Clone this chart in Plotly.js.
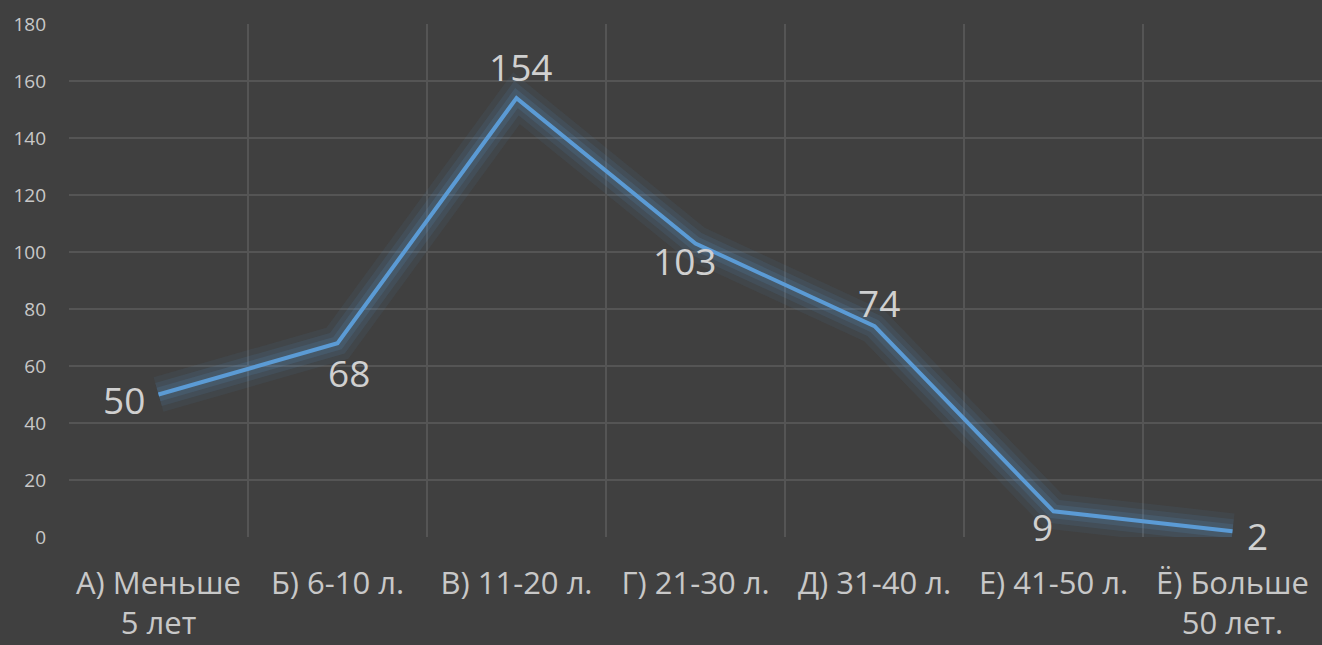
<!DOCTYPE html>
<html><head><meta charset="utf-8">
<script src="https://cdn.plot.ly/plotly-3.0.1.min.js"></script>
<style>html,body{margin:0;padding:0;background:#404040;}#chart{width:1322px;height:645px;}</style>
</head><body><div id="chart"></div>
<script>
const categories = ["А) Меньше<br>5 лет","Б) 6-10 л.","В) 11-20 л.","Г) 21-30 л.","Д) 31-40 л.","Е) 41-50 л.","Ё) Больше<br>50 лет."];
const values = [50, 68, 154, 103, 74, 9, 2];
const yTicks = [0,20,40,60,80,100,120,140,160,180];
const labelPos = [
  {xanchor:"right", yanchor:"middle", xshift:-12, yshift:-5},
  {xanchor:"left", yanchor:"top", xshift:-12, yshift:-2},
  {xanchor:"center", yanchor:"bottom", xshift:4, yshift:4},
  {xanchor:"center", yanchor:"top", xshift:-11, yshift:10},
  {xanchor:"center", yanchor:"bottom", xshift:4, yshift:-4},
  {xanchor:"center", yanchor:"top", xshift:-11, yshift:12},
  {xanchor:"left", yanchor:"middle", xshift:12, yshift:-4}
];
const font = "'Open Sans', sans-serif";
const traces = [
  {x:categories, y:values, mode:"lines", line:{color:"rgba(91,155,213,0.07)", width:36}, hoverinfo:"skip", showlegend:false},
  {x:categories, y:values, mode:"lines", line:{color:"rgba(91,155,213,0.10)", width:24}, hoverinfo:"skip", showlegend:false},
  {x:categories, y:values, mode:"lines", line:{color:"rgba(91,155,213,0.14)", width:14}, hoverinfo:"skip", showlegend:false},
  {x:categories, y:values, mode:"lines", line:{color:"#5B9BD5", width:4}, showlegend:false}
];
const annotations = values.map((v,i)=>Object.assign({
  x:i, y:v, xref:"x", yref:"y", text:String(v), showarrow:false,
  font:{family:font, size:37, color:"#d0d0d0"}
}, labelPos[i]));
const layout = {
  width:1322, height:645,
  paper_bgcolor:"#404040", plot_bgcolor:"#404040",
  margin:{l:69, r:0, t:24, b:108},
  showlegend:false,
  xaxis:{
    type:"category", range:[-0.5,6.5], tickson:"boundaries",
    showgrid:true, gridcolor:"#555555", gridwidth:1.5,
    zeroline:false, showline:false, ticks:"",
    tickfont:{family:font, size:31, color:"#c8c8c8"}, ticklabelstandoff:25
  },
  yaxis:{
    range:[0,180], tickmode:"array", tickvals:yTicks,
    showgrid:true, gridcolor:"#555555", gridwidth:1.5, zeroline:false, showline:false, ticks:"",
    tickfont:{family:font, size:19, color:"#c8c8c8"}, ticklabelstandoff:22
  },
  annotations:annotations
};
Plotly.newPlot("chart", traces, layout, {displayModeBar:false, staticPlot:true});
</script></body></html>
